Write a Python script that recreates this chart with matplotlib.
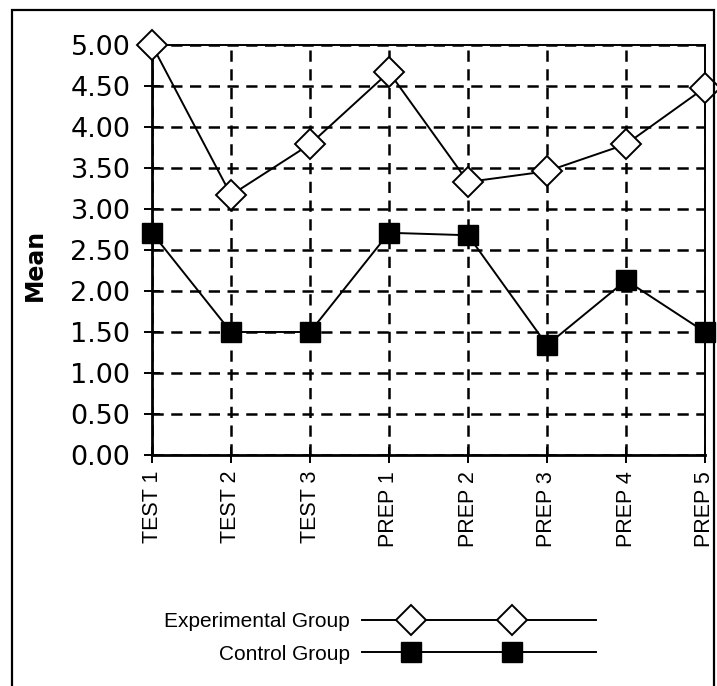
import numpy as np
import matplotlib
matplotlib.use("Agg")
import matplotlib.pyplot as plt
from matplotlib.lines import Line2D
from matplotlib.legend_handler import HandlerLine2D
from matplotlib.patches import Rectangle

categories = ["TEST 1", "TEST 2", "TEST 3", "PREP 1", "PREP 2", "PREP 3", "PREP 4", "PREP 5"]
experimental = [5.00, 3.17, 3.79, 4.67, 3.33, 3.46, 3.79, 4.48]
control = [2.71, 1.50, 1.50, 2.71, 2.68, 1.34, 2.13, 1.50]
y_ticks = [0.0, 0.5, 1.0, 1.5, 2.0, 2.5, 3.0, 3.5, 4.0, 4.5, 5.0]

W, H = 717, 686
fig = plt.figure(figsize=(W / 100, H / 100), dpi=100)

# outer frame
fig.patches.append(Rectangle((12 / W, -0.05), (714 - 12) / W, 1.05 - 10 / H,
                             transform=fig.transFigure, fill=False,
                             edgecolor="black", linewidth=1.6))

ax = fig.add_axes([152 / W, 1 - 455 / H, (705 - 152) / W, (455 - 45) / H])
x = np.arange(len(categories))

ax.plot(x, experimental, color="black", lw=1.4, marker="D", ms=15,
        mfc="white", mec="black", mew=1.4, clip_on=False, zorder=5,
        label="Experimental Group")
ax.plot(x, control, color="black", lw=1.4, marker="s", ms=15,
        mfc="black", mec="black", mew=1.0, clip_on=False, zorder=5,
        label="Control Group")

ax.set_xlim(0, len(categories) - 1)
ax.set_ylim(0, 5)
ax.set_xticks(x)
ax.set_xticklabels(categories, rotation=90, fontsize=15.5,
                   family=["Liberation Sans", "DejaVu Sans"])
ax.set_yticks(y_ticks)
ax.set_yticklabels([f"{v:.2f}" for v in y_ticks], fontsize=19.5,
                   family="DejaVu Sans")
ax.tick_params(axis="both", direction="inout", length=11, width=1.4,
               color="black")
ax.tick_params(axis="y", pad=10)
ax.tick_params(axis="x", pad=6)

ax.grid(True, color="black", linestyle=(0, (4.5, 3)), linewidth=1.8)
ax.set_axisbelow(True)
for side in ["left", "bottom"]:
    ax.spines[side].set_linewidth(2.0)
for side in ["top", "right"]:
    ax.spines[side].set_linewidth(1.4)

fig.text(35 / W, 1 - 265 / H, "Mean", rotation=90, ha="center", va="center",
         fontsize=17, fontweight="bold", family="DejaVu Sans")


class SpreadHandler(HandlerLine2D):
    def get_xdata(self, legend, xdescent, ydescent, width, height, fontsize):
        x0 = -xdescent
        xdata = np.array([x0, x0 + 0.21 * width, x0 + 0.64 * width, x0 + width])
        return xdata, xdata

    def create_artists(self, legend, orig_handle, xdescent, ydescent,
                       width, height, fontsize, trans):
        arts = super().create_artists(legend, orig_handle, xdescent, ydescent,
                                      width, height, fontsize, trans)
        for a in arts:
            a.set_markevery([1, 2])
        return arts


handles, labels = ax.get_legend_handles_labels()
leg = fig.legend(handles, labels, loc="center",
                 bbox_to_anchor=(380 / W, 1 - 638 / H),
                 frameon=False, markerfirst=False, handlelength=11.2,
                 handletextpad=0.6, labelspacing=0.65, numpoints=2,
                 prop={"family": ["Liberation Sans", "DejaVu Sans"], "size": 15},
                 handler_map={Line2D: SpreadHandler()})
for t in leg.get_texts():
    t.set_ha("right")
leg._legend_box.align = "right"

fig.savefig("out.png", dpi=100)
